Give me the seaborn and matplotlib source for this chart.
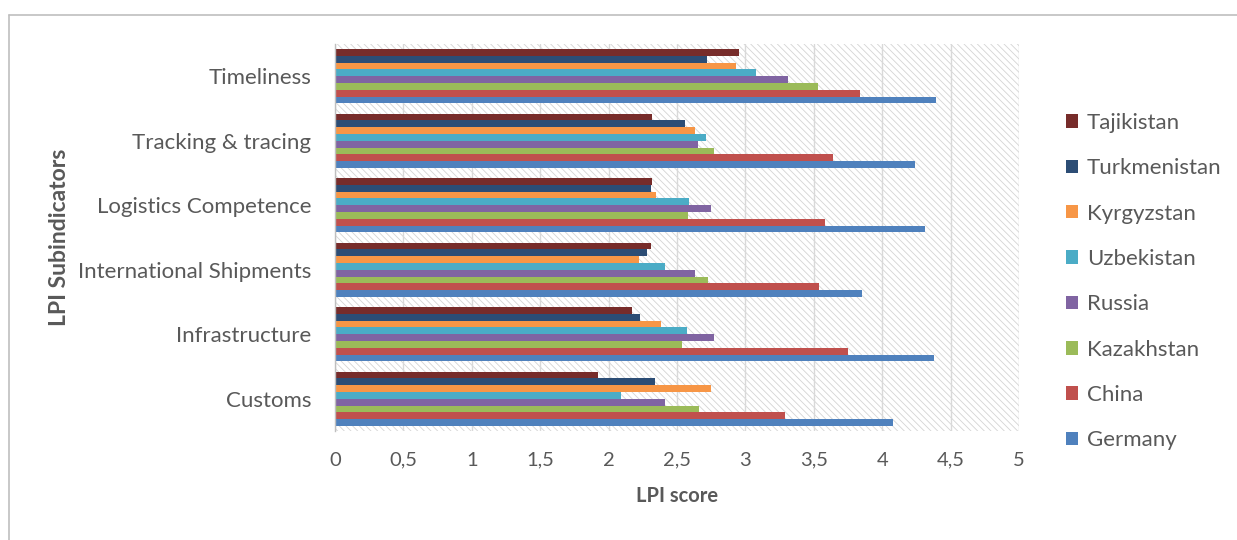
import matplotlib
matplotlib.use("Agg")
import matplotlib.pyplot as plt
from matplotlib.patches import Rectangle
from matplotlib.lines import Line2D
import seaborn as sns
import pandas as pd

# LPI sub-indicators, listed top to bottom
indicators = ["Timeliness", "Tracking & tracing", "Logistics Competence",
              "International Shipments", "Infrastructure", "Customs"]

# Countries, in the order they are stacked inside each group (top to bottom)
countries = ["Tajikistan", "Turkmenistan", "Kyrgyzstan", "Uzbekistan",
             "Russia", "Kazakhstan", "China", "Germany"]

# Scores per country, aligned with `indicators`
tajikistan   = [2.95, 2.32, 2.32, 2.31, 2.17, 1.92]
turkmenistan = [2.72, 2.56, 2.31, 2.28, 2.23, 2.34]
kyrgyzstan   = [2.93, 2.63, 2.35, 2.22, 2.38, 2.75]
uzbekistan   = [3.08, 2.71, 2.59, 2.41, 2.57, 2.09]
russia       = [3.31, 2.65, 2.75, 2.63, 2.77, 2.41]
kazakhstan   = [3.53, 2.77, 2.58, 2.73, 2.54, 2.66]
china        = [3.84, 3.64, 3.58, 3.54, 3.75, 3.29]
germany      = [4.39, 4.24, 4.31, 3.85, 4.38, 4.08]

series = [tajikistan, turkmenistan, kyrgyzstan, uzbekistan,
          russia, kazakhstan, china, germany]

colors = ["#772C2A", "#2C4D75", "#F79646", "#4BACC6",
          "#8064A2", "#9BBB59", "#C0504D", "#4F81BD"]

x_ticks = [0, 0.5, 1, 1.5, 2, 2.5, 3, 3.5, 4, 4.5, 5]
x_tick_labels = ["0", "0,5", "1", "1,5", "2", "2,5", "3", "3,5", "4", "4,5", "5"]

rows = []
for country, values in zip(countries, series):
    for ind, v in zip(indicators, values):
        rows.append({"indicator": ind, "country": country, "score": v})
df = pd.DataFrame(rows)

sns.set_style("white")
plt.rcParams["font.family"] = ["Lato", "DejaVu Sans"]
plt.rcParams["hatch.linewidth"] = 0.6
text_color = "#595959"

fig = plt.figure(figsize=(12.37, 5.40), dpi=100)
ax = fig.add_axes([335 / 1237, 1 - 431 / 540, (1019 - 335) / 1237, (431 - 44) / 540])

# diagonal-hatched plot background
ax.add_patch(Rectangle((0, 0), 1, 1, transform=ax.transAxes, facecolor="white",
                       edgecolor="#D4D4D4", hatch="\\\\\\\\\\", linewidth=0, zorder=0))

sns.barplot(data=df, x="score", y="indicator", hue="country",
            order=indicators, hue_order=countries, palette=colors,
            saturation=1, orient="h", width=0.84, gap=0, ax=ax, errorbar=None,
            edgecolor="none", linewidth=0, zorder=2)

ax.set_xlim(0, 5)
ax.set_xticks(x_ticks)
ax.set_xticklabels(x_tick_labels)
ax.set_axisbelow(True)
ax.grid(axis="x", color="#D9D9D9", linewidth=1.0, zorder=1)
ax.grid(axis="y", visible=False)

for side in ["top", "right", "bottom"]:
    ax.spines[side].set_visible(False)
ax.spines["left"].set_color("#BFBFBF")
ax.spines["left"].set_linewidth(1.0)

ax.tick_params(axis="both", length=0, colors=text_color)
ax.tick_params(axis="x", pad=15, labelsize=14.5)
ax.tick_params(axis="y", pad=17, labelsize=16)

ax.set_xlabel("LPI score", fontsize=14.5, fontweight="bold", color=text_color, labelpad=12)
ax.set_ylabel("LPI Subindicators", fontsize=16.5, fontweight="bold", color=text_color, labelpad=6)

handles, labels = ax.get_legend_handles_labels()
ax.get_legend().remove()
fig.legend(handles, labels, loc="upper left", bbox_to_anchor=(1066 / 1237, 1 - 113 / 540),
           frameon=False, fontsize=16, labelcolor=text_color,
           handlelength=0.55, handleheight=0.55, handletextpad=0.4,
           labelspacing=1.14, borderpad=0, borderaxespad=0)

# thin frame along the top and left edges of the chart
fig.add_artist(Line2D([9 / 1237, 1], [1 - 15 / 540, 1 - 15 / 540],
                      transform=fig.transFigure, color="#BFBFBF", linewidth=1.2))
fig.add_artist(Line2D([9 / 1237, 9 / 1237], [0, 1 - 15 / 540],
                      transform=fig.transFigure, color="#BFBFBF", linewidth=1.2))

fig.savefig("out.png", dpi=100, facecolor="white")
